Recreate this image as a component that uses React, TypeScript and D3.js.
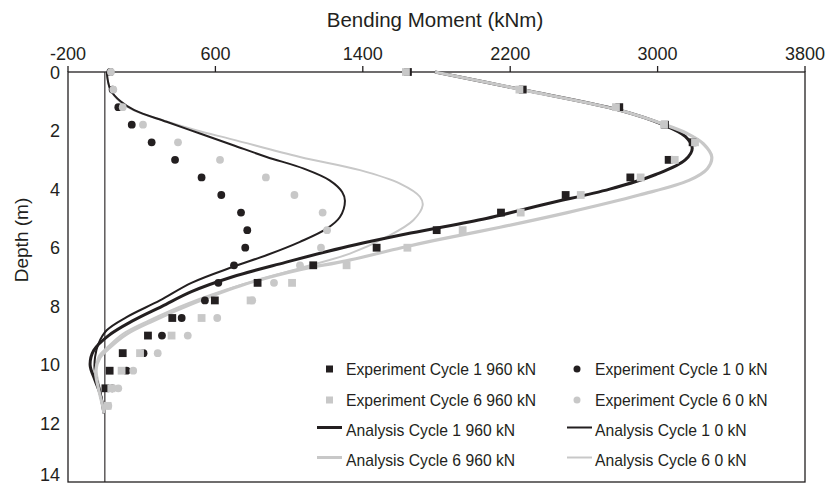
import React from "react";
import * as d3 from "d3";

const W = 829;
const H = 486;

const xTicks = [-200, 600, 1400, 2200, 3000, 3800];
const yTicks = [0, 2, 4, 6, 8, 10, 12, 14];

const expDepths = [0, 0.6, 1.2, 1.8, 2.4, 3.0, 3.6, 4.2, 4.8, 5.4, 6.0, 6.6, 7.2, 7.8, 8.4, 9.0, 9.6, 10.2, 10.8, 11.4];
const expC1_960: (number | null)[] = [1645, 2268, 2792, 3040, 3190, 3060, 2852, 2501, 2150, 1801, 1475, 1131, 829, 597, 366, 234, 97, 26, 3, null];
const expC1_0: (number | null)[] = [30, 42, 73, 146, 254, 381, 525, 632, 739, 773, 762, 701, 616, 543, 417, 310, 210, 118, 40, null];
const expC6_960: (number | null)[] = [1634, 2250, 2774, 3035, 3203, 3093, 2908, 2583, 2257, 1942, 1642, 1312, 1016, 791, 525, 362, 191, 91, 35, 15];
const expC6_0: (number | null)[] = [33, 46, 97, 207, 397, 625, 874, 1029, 1182, 1206, 1173, 1059, 918, 800, 610, 450, 287, 154, 73, 19];

const anaC1_960_depth = [0, 0.6, 1.3, 1.8, 2.2, 2.6, 3.0, 3.5, 4.0, 4.5, 5.0, 5.5, 6.0, 6.5, 7.0, 7.5, 8.0, 8.5, 9.0, 9.5, 10.0, 10.5, 11.0, 11.65];
const anaC1_960_moment = [1792, 2262, 2790, 3030, 3150, 3188, 3150, 2990, 2740, 2400, 2070, 1660, 1290, 980, 690, 470, 310, 150, 20, -60, -80, -55, -25, -5];

const anaC1_0_depth = [0, 0.6, 1.0, 1.3, 1.7, 2.1, 2.5, 2.9, 3.3, 3.7, 4.1, 4.4, 4.95, 5.35, 5.8, 6.25, 6.65, 7.2, 7.8, 8.37, 8.82, 9.28, 9.73, 10.2, 10.9, 11.65];
const anaC1_0_moment = [10, 30, 85, 160, 335, 516, 697, 878, 1080, 1220, 1288, 1303, 1276, 1204, 1059, 880, 697, 470, 299, 118, 10, -35, -53, -55, -25, -5];

const anaC6_960_depth = [0, 0.6, 1.3, 1.8, 2.1, 2.45, 2.9, 3.3, 3.7, 4.2, 4.8, 5.3, 5.75, 6.0, 6.45, 6.75, 7.25, 7.9, 8.5, 8.95, 9.4, 9.75, 10.2, 10.8, 11.4, 11.65];
const anaC6_960_moment = [1792, 2262, 2790, 3040, 3160, 3248, 3294, 3270, 3170, 2900, 2510, 2145, 1790, 1610, 1310, 1059, 760, 480, 260, 118, 28, -26, -50, -35, -12, -5];

const anaC6_0_depth = [0, 0.6, 1.0, 1.3, 1.7, 2.0, 2.3, 2.9, 3.35, 3.81, 4.26, 4.55, 5.06, 5.63, 6.2, 6.7, 7.28, 7.9, 8.48, 8.93, 9.39, 9.73, 10.2, 10.87, 11.65];
const anaC6_0_moment = [10, 30, 80, 155, 340, 500, 690, 1059, 1385, 1602, 1710, 1725, 1674, 1530, 1330, 1059, 733, 450, 240, 100, 15, -35, -45, -25, -5];

const legendLabels = [
  "Experiment Cycle 1 960 kN",
  "Experiment Cycle 1 0 kN",
  "Experiment Cycle 6 960 kN",
  "Experiment Cycle 6 0 kN",
  "Analysis Cycle 1 960 kN",
  "Analysis Cycle 1 0 kN",
  "Analysis Cycle 6 960 kN",
  "Analysis Cycle 6 0 kN",
];

const BLACK = "#231f20";
const GRAY = "#c8c8c8";
const FONT = "'Liberation Sans', Arial, Helvetica, sans-serif";

export default function App() {
  const x = d3.scaleLinear().domain([-200, 3800]).range([68, 805]);
  const y = d3.scaleLinear().domain([0, 14]).range([72, 482]);

  const line = d3
    .line<[number, number]>()
    .x((p) => x(p[1]))
    .y((p) => y(p[0]))
    .curve(d3.curveCatmullRom.alpha(0.5));

  const mk = (ds: number[], ms: number[]) => line(ds.map((d, i) => [d, ms[i]] as [number, number])) || "";

  const pts = (vals: (number | null)[]) =>
    expDepths
      .map((d, i) => ({ d, m: vals[i] }))
      .filter((p) => p.m !== null) as { d: number; m: number }[];

  const sq = 7.8;
  const r = 3.9;

  const legendRows = [369, 400, 430, 460];
  const col1 = { marker: 329.5, lineA: 317, lineB: 342, text: 346 };
  const col2 = { marker: 577, lineA: 567, lineB: 592, text: 595 };

  return (
    <svg
      width={W}
      height={H}
      style={{ position: "absolute", left: 0, top: 0, background: "#fff" }}
      fontFamily={FONT}
    >
      <rect x={0} y={0} width={W} height={H} fill="#fff" />
      {/* title */}
      <text x={435} y={27} textAnchor="middle" fontSize={20.5} fill={BLACK}>
        Bending Moment (kNm)
      </text>
      {/* x ticks */}
      {xTicks.map((t) => (
        <g key={"xt" + t}>
          <line x1={x(t)} x2={x(t)} y1={66} y2={72} stroke={BLACK} strokeWidth={1.3} />
          <text x={x(t)} y={60} textAnchor="middle" fontSize={18} fill={BLACK}>
            {t}
          </text>
        </g>
      ))}
      {/* y ticks */}
      {yTicks.map((t) => (
        <text key={"yt" + t} x={60} y={Math.min(y(t) + 6.5, 481)} textAnchor="end" fontSize={18} fill={BLACK}>
          {t}
        </text>
      ))}
      <text
        transform={`translate(28,240) rotate(-90)`}
        textAnchor="middle"
        fontSize={19}
        fill={BLACK}
      >
        Depth (m)
      </text>
      {/* frame */}
      <rect x={x(-200)} y={y(0)} width={x(3800) - x(-200)} height={y(14) - y(0)} fill="none" stroke={BLACK} strokeWidth={1.3} />
      {/* zero line */}
      <line x1={x(0)} x2={x(0)} y1={y(0)} y2={y(14)} stroke={BLACK} strokeWidth={1.1} />

      {/* analysis curves */}
      <path d={mk(anaC6_0_depth, anaC6_0_moment)} fill="none" stroke={GRAY} strokeWidth={2} />
      <path d={mk(anaC1_0_depth, anaC1_0_moment)} fill="none" stroke={BLACK} strokeWidth={2} />
      <path d={mk(anaC1_960_depth, anaC1_960_moment)} fill="none" stroke={BLACK} strokeWidth={3} />
      <path d={mk(anaC6_960_depth, anaC6_960_moment)} fill="none" stroke={GRAY} strokeWidth={3.2} />

      {/* experiment markers */}
      {pts(expC1_960).map((p, i) => (
        <rect key={"a" + i} x={x(p.m) - sq / 2} y={y(p.d) - sq / 2} width={sq} height={sq} fill={BLACK} />
      ))}
      {pts(expC1_0).map((p, i) => (
        <circle key={"b" + i} cx={x(p.m)} cy={y(p.d)} r={r} fill={BLACK} />
      ))}
      {pts(expC6_960).map((p, i) => (
        <rect key={"c" + i} x={x(p.m) - sq / 2} y={y(p.d) - sq / 2} width={sq} height={sq} fill={GRAY} />
      ))}
      {pts(expC6_0).map((p, i) => (
        <circle key={"d" + i} cx={x(p.m)} cy={y(p.d)} r={r} fill={GRAY} />
      ))}

      {/* legend */}
      <g fontSize={15.7} fill={BLACK}>
        <rect x={col1.marker - 3.5} y={legendRows[0] - 3.5} width={7} height={7} fill={BLACK} />
        <text x={col1.text} y={legendRows[0] + 5.5}>{legendLabels[0]}</text>
        <circle cx={col2.marker} cy={legendRows[0]} r={3.5} fill={BLACK} />
        <text x={col2.text} y={legendRows[0] + 5.5}>{legendLabels[1]}</text>

        <rect x={col1.marker - 3.5} y={legendRows[1] - 3.5} width={7} height={7} fill={GRAY} />
        <text x={col1.text} y={legendRows[1] + 5.5}>{legendLabels[2]}</text>
        <circle cx={col2.marker} cy={legendRows[1]} r={3.5} fill={GRAY} />
        <text x={col2.text} y={legendRows[1] + 5.5}>{legendLabels[3]}</text>

        <line x1={col1.lineA} x2={col1.lineB} y1={legendRows[2] - 2.5} y2={legendRows[2] - 2.5} stroke={BLACK} strokeWidth={3} />
        <text x={col1.text} y={legendRows[2] + 5.5}>{legendLabels[4]}</text>
        <line x1={col2.lineA} x2={col2.lineB} y1={legendRows[2] - 2.5} y2={legendRows[2] - 2.5} stroke={BLACK} strokeWidth={2} />
        <text x={col2.text} y={legendRows[2] + 5.5}>{legendLabels[5]}</text>

        <line x1={col1.lineA} x2={col1.lineB} y1={legendRows[3] - 2.5} y2={legendRows[3] - 2.5} stroke={GRAY} strokeWidth={3} />
        <text x={col1.text} y={legendRows[3] + 5.5}>{legendLabels[6]}</text>
        <line x1={col2.lineA} x2={col2.lineB} y1={legendRows[3] - 2.5} y2={legendRows[3] - 2.5} stroke={GRAY} strokeWidth={2} />
        <text x={col2.text} y={legendRows[3] + 5.5}>{legendLabels[7]}</text>
      </g>
    </svg>
  );
}
